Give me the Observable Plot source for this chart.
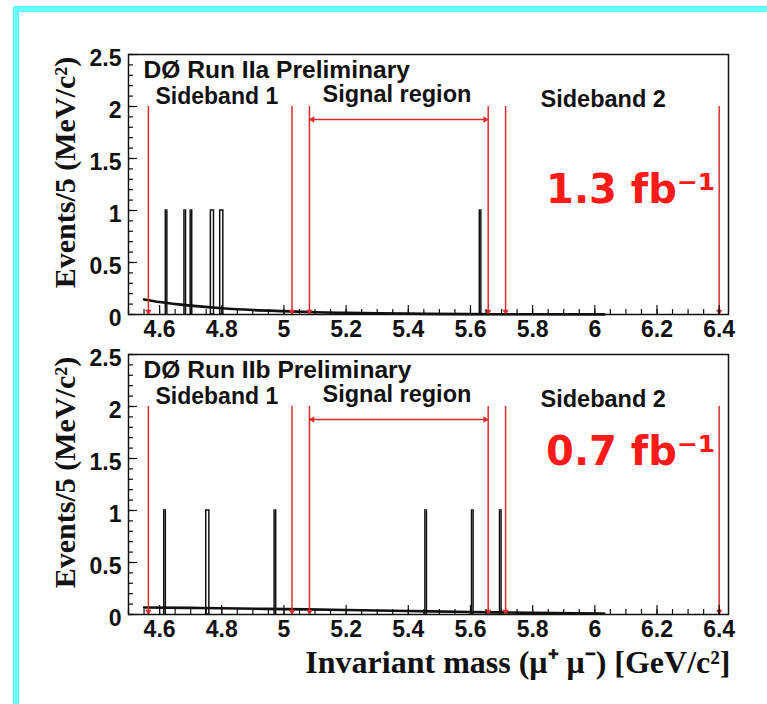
<!DOCTYPE html>
<html>
<head>
<meta charset="utf-8">
<script src="https://cdn.jsdelivr.net/npm/d3@7"></script>
<script src="https://cdn.jsdelivr.net/npm/@observablehq/plot@0.6"></script>
<style>
  body { margin: 0; background: white; }
  #wrap { position: relative; width: 767px; height: 704px; background: white; overflow: hidden; }
  #p1, #p2 { position: absolute; left: 0; }
  #p1 { top: 0; }
  #p2 { top: 340px; }
  #cyan { position: absolute; left: 13px; top: 6px; right: 0; bottom: 0;
          border-top: 6px solid #66fcfc; border-left: 6px solid #66fcfc; pointer-events: none; }
</style>
</head>
<body>
<div id="wrap">
  <div id="p1"></div>
  <div id="p2"></div>
  <div id="cyan"></div>
</div>
<script>
// ---------- data ----------
const xDomain = [4.5, 6.43];
const yDomain = [0, 2.5];
const xTicks = [4.6, 4.8, 5.0, 5.2, 5.4, 5.6, 5.8, 6.0, 6.2, 6.4];
const xTickLabels = ["4.6", "4.8", "5", "5.2", "5.4", "5.6", "5.8", "6", "6.2", "6.4"];
const yTicks = [0, 0.5, 1, 1.5, 2, 2.5];
const yTickLabels = ["0", "0.5", "1", "1.5", "2", "2.5"];

// region boundaries (red arrows), GeV
const regionEdges = [4.564, 5.026, 5.082, 5.657, 5.713, 6.40];
const regionEdgeTop = 2;
const signalArrowY = 1.875;
const signalRange = [5.082, 5.657];
const regionNames = ["Sideband 1", "Signal region", "Sideband 2"];

// Run IIa events: bin low edge, bin high edge, count
const runIIaLo = [4.620, 4.680, 4.700, 4.765, 4.795, 5.630];
const runIIaHi = [4.625, 4.685, 4.705, 4.775, 4.805, 5.635];
const runIIaCount = [1, 1, 1, 1, 1, 1];
// Run IIa background fit
const fitIIaMass = [4.55, 4.60, 4.70, 4.80, 4.90, 5.00, 5.10, 5.20, 5.30, 5.40, 5.60, 5.80, 6.03];
const fitIIaVal  = [0.145, 0.120, 0.085, 0.060, 0.043, 0.032, 0.022, 0.016, 0.011, 0.008, 0.004, 0.002, 0.001];

// Run IIb events
const runIIbLo = [4.615, 4.750, 4.970, 5.455, 5.605, 5.695];
const runIIbHi = [4.620, 4.760, 4.975, 5.460, 5.610, 5.700];
const runIIbCount = [1, 1, 1, 1, 1, 1];
// Run IIb background fit
const fitIIbMass = [4.55, 4.70, 4.80, 5.00, 5.20, 5.40, 5.60, 5.80, 6.03];
const fitIIbVal  = [0.068, 0.064, 0.060, 0.052, 0.043, 0.033, 0.024, 0.016, 0.008];

const titles = ["DØ Run IIa Preliminary", "DØ Run IIb Preliminary"];
const lumis = ["1.3 fb⁻¹", "0.7 fb⁻¹"];
const yLabel = "Events/5 (MeV/c²)";
const xLabel = "Invariant mass (μ⁺ μ⁻) [GeV/c²]";

// ---------- drawing ----------
const RED = "#dc2b2b";
const SANS = "'Liberation Sans', Arial, Helvetica, sans-serif";
const SERIF = "'Liberation Serif', 'Times New Roman', serif";
const FRAME_W = 600, FRAME_H = 260;

function panel(o) {
  const bars = o.lo.map((lo, i) => ({lo, hi: o.hi[i], n: o.count[i]}));
  const fit = o.fitMass.map((m, i) => ({m, v: o.fitVal[i]}));
  const xMinor = d3.range(4.5, 6.43, 0.05).map(v => +v.toFixed(3));
  const yMinor = d3.range(0, 2.5001, 0.1).map(v => +v.toFixed(2));
  const marks = [
    Plot.rect(bars, {x1: "lo", x2: "hi", y1: 0, y2: "n", fill: "none", stroke: "#111", strokeWidth: 1.5}),
    Plot.line(fit, {x: "m", y: "v", stroke: "#111", strokeWidth: 2.6, curve: "monotone-x"}),
    // red region markers
    Plot.ruleX(regionEdges, {x: d => d, y1: 0, y2: regionEdgeTop, stroke: RED, strokeWidth: 1.5}),
    Plot.dot(regionEdges, {x: d => d, y: 0, symbol: "triangle2", rotate: 180, r: 3, fill: RED, dy: -3}),
    Plot.ruleY([signalArrowY], {x1: signalRange[0], x2: signalRange[1], stroke: RED, strokeWidth: 1.5}),
    Plot.dot([signalRange[0]], {x: d => d, y: signalArrowY, symbol: "triangle2", rotate: -90, r: 3, fill: RED, dx: 3}),
    Plot.dot([signalRange[1]], {x: d => d, y: signalArrowY, symbol: "triangle2", rotate: 90, r: 3, fill: RED, dx: -3}),
    // frame + ticks
    Plot.frame({stroke: "#111", strokeWidth: 1.5}),
    Plot.ruleX(xMinor, {x: d => d, insetTop: FRAME_H - 5, stroke: "#111", strokeWidth: 1.2}),
    Plot.ruleX(xTicks, {x: d => d, insetTop: FRAME_H - 9, stroke: "#111", strokeWidth: 1.2}),
    Plot.ruleY(yMinor, {y: d => d, insetRight: FRAME_W - 5, stroke: "#111", strokeWidth: 1.2}),
    Plot.ruleY(yTicks, {y: d => d, insetRight: FRAME_W - 9, stroke: "#111", strokeWidth: 1.2}),
    // tick labels
    Plot.text(xTicks, {x: d => d, frameAnchor: "bottom", text: (d, i) => xTickLabels[i], lineAnchor: "top", dy: 6,
      fontFamily: SANS, fontWeight: "bold", fontSize: 23, fill: "#111"}),
    Plot.text(yTicks, {y: d => d, frameAnchor: "left", text: (d, i) => yTickLabels[i], textAnchor: "end", dx: -7, dy: 4.5,
      fontFamily: SANS, fontWeight: "bold", fontSize: 23, fill: "#111"}),
    // y label
    Plot.text([yLabel], {frameAnchor: "left", text: d => d, rotate: -90, textAnchor: "middle", lineAnchor: "middle", dx: -63, dy: -12,
      fontFamily: SERIF, fontWeight: "bold", fontSize: 30, fill: "#111"}),
    // annotations
    Plot.text([o.title], {frameAnchor: "top-left", text: d => d, textAnchor: "start", lineAnchor: "bottom", dx: 15, dy: 23.5,
      fontFamily: SANS, fontWeight: "bold", fontSize: 24.6, fill: "#111"}),
    Plot.text([regionNames[0]], {frameAnchor: "top-left", text: d => d, textAnchor: "start", lineAnchor: "bottom", dx: 27, dy: 49.5,
      fontFamily: SANS, fontWeight: "bold", fontSize: 23, fill: "#111"}),
    Plot.text([regionNames[1]], {frameAnchor: "top-left", text: d => d, textAnchor: "start", lineAnchor: "bottom", dx: 194, dy: 47.7,
      fontFamily: SANS, fontWeight: "bold", fontSize: 23.5, fill: "#111"}),
    Plot.text([regionNames[2]], {frameAnchor: "top-left", text: d => d, textAnchor: "start", lineAnchor: "bottom", dx: 412, dy: 52,
      fontFamily: SANS, fontWeight: "bold", fontSize: 23.5, fill: "#111"}),
    Plot.text([o.lumi], {frameAnchor: "top-right", text: d => d, textAnchor: "end", lineAnchor: "bottom", dx: -13, dy: o.lumiDy,
      fontFamily: "'DejaVu Sans', sans-serif", fontWeight: "bold", fontSize: 40, fill: "#ff1a1a"})
  ];
  if (o.xLabel) {
    marks.push(Plot.text([o.xLabel], {frameAnchor: "bottom-right", text: d => d, textAnchor: "end", lineAnchor: "bottom", dx: 2, dy: 58,
      fontFamily: SERIF, fontWeight: "bold", fontSize: 32, fill: "#111"}));
  }
  return Plot.plot({
    width: 767,
    height: o.height,
    marginLeft: 128,
    marginRight: 39,
    marginTop: o.marginTop,
    marginBottom: o.height - o.marginTop - FRAME_H,
    style: {background: "transparent", overflow: "visible"},
    x: {domain: xDomain, axis: null},
    y: {domain: yDomain, axis: null},
    marks
  });
}

document.getElementById("p1").append(panel({
  height: 340, marginTop: 54,
  lo: runIIaLo, hi: runIIaHi, count: runIIaCount,
  fitMass: fitIIaMass, fitVal: fitIIaVal,
  title: titles[0], lumi: lumis[0], lumiDy: 148
}));
document.getElementById("p2").append(panel({
  height: 364, marginTop: 14,
  lo: runIIbLo, hi: runIIbHi, count: runIIbCount,
  fitMass: fitIIbMass, fitVal: fitIIbVal,
  title: titles[1], lumi: lumis[1], lumiDy: 110,
  xLabel: xLabel
}));
</script>
</body>
</html>
